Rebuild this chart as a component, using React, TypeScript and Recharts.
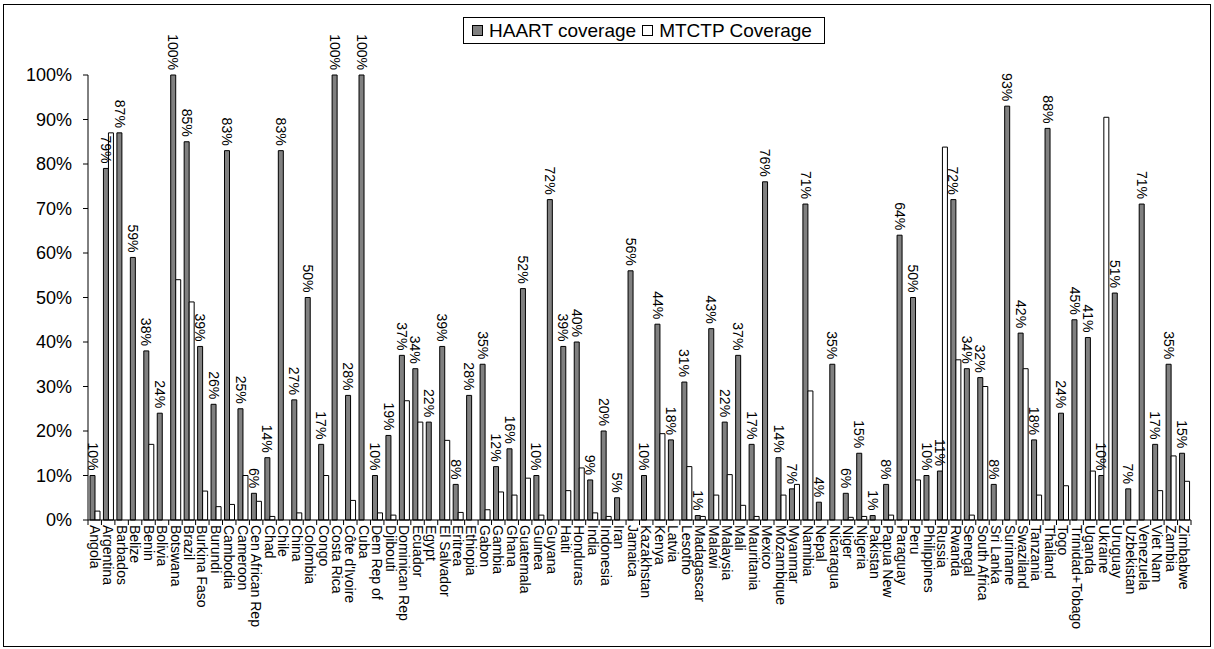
import React from "react";
import { BarChart, Bar, XAxis, YAxis, Legend, LabelList } from "recharts";

const countries = [
  "Angola", "Argentina", "Barbados", "Belize", "Benin", "Bolivia", "Botswana", "Brazil",
  "Burkina Faso", "Burundi", "Cambodia", "Cameroon", "Cen African Rep", "Chad", "Chile",
  "China", "Colombia", "Congo", "Costa Rica", "Côte d'Ivoire", "Cuba", "Dem Rep of",
  "Djibouti", "Dominican Rep", "Ecuador", "Egypt", "El Salvador", "Eritrea", "Ethiopia",
  "Gabon", "Gambia", "Ghana", "Guatemala", "Guinea", "Guyana", "Haiti", "Honduras", "India",
  "Indonesia", "Iran", "Jamaica", "Kazakhstan", "Kenya", "Latvia", "Lesotho", "Madagascar",
  "Malawi", "Malaysia", "Mali", "Mauritania", "Mexico", "Mozambique", "Myanmar", "Namibia",
  "Nepal", "Nicaragua", "Niger", "Nigeria", "Pakistan", "Papua New", "Paraguay", "Peru",
  "Philippines", "Russia", "Rwanda", "Senegal", "South Africa", "Sri Lanka", "Suriname",
  "Swaziland", "Tanzania", "Thailand", "Togo", "Trinidad+Tobago", "Uganda", "Ukraine",
  "Uruguay", "Uzbekistan", "Venezuela", "Viet Nam", "Zambia", "Zimbabwe",
];

const haart = [
  10, 79, 87, 59, 38, 24, 100, 85, 39, 26, 83, 25, 6, 14, 83, 27, 50, 17, 100, 28, 100, 10,
  19, 37, 34, 22, 39, 8, 28, 35, 12, 16, 52, 10, 72, 39, 40, 9, 20, 5, 56, 10, 44, 18, 31, 1,
  43, 22, 37, 17, 76, 14, 7, 71, 4, 35, 6, 15, 1, 8, 64, 50, 10, 11, 72, 34, 32, 8, 93, 42,
  18, 88, 24, 45, 41, 10, 51, 7, 71, 17, 35, 15,
];

const mtctp = [
  2, 87, 0, 0, 17, 0, 54, 49, 6.5, 3, 3.5, 10, 4.2, 0.8, 0, 1.6, 0, 10, 0, 4.4, 0, 1.6,
  1.1, 26.8, 22, 0, 17.9, 1.7, 0, 2.3, 6.3, 5.6, 9.4, 1.1, 0, 6.6, 11.7, 1.6, 0.8, 0, 0, 0,
  19.4, 0, 12, 0.8, 5.6, 10.2, 3.3, 0.8, 0, 5.6, 8, 29, 0, 0, 0.6, 0.8, 0, 1.1, 0, 9, 0,
  83.8, 36, 1.1, 30, 0, 0, 34, 5.6, 0, 7.7, 0, 11, 90.5, 0, 0, 0, 6.6, 14.4, 8.7,
];

const yTicks = [0, 10, 20, 30, 40, 50, 60, 70, 80, 90, 100];

const data = countries.map((c, i) => ({ country: c, haart: haart[i], mtctp: mtctp[i] }));

const FONT = "'Liberation Sans', Arial, Helvetica, sans-serif";
const W = 1214;
const H = 649;
const LEFT = 88;
const RIGHT = 23;
const BAND = (W - LEFT - RIGHT) / countries.length;

const CountryTick = (props: any) => {
  const { x, y, payload, index } = props;
  const half = BAND / 2;
  const ty = y + 5;
  return (
    <g>
      {index === 0 && <line x1={x - half} y1={y} x2={x - half} y2={y + 5} stroke="#000" />}
      <line x1={x + half} y1={y} x2={x + half} y2={y + 5} stroke="#000" />
      <text
        x={x}
        y={ty}
        transform={`rotate(90, ${x}, ${ty})`}
        textAnchor="start"
        dy="0.35em"
        fontSize={14}
        fontFamily={FONT}
        fill="#000"
      >
        {payload.value}
      </text>
    </g>
  );
};

const TopLabel = (props: any) => {
  const { x, y, width, value } = props;
  const cx = x + width / 2;
  const ty = y - 5;
  return (
    <text
      x={cx}
      y={ty}
      transform={`rotate(90, ${cx}, ${ty})`}
      textAnchor="end"
      dy="0.35em"
      fontSize={14}
      fontFamily={FONT}
      fill="#000"
    >
      {value}%
    </text>
  );
};

const LegendBox = (props: any) => {
  const { payload = [] } = props;
  return (
    <div
      style={{
        display: "flex",
        alignItems: "center",
        height: 25,
        border: "1px solid #000",
        background: "#fff",
        padding: "0 12px 0 8px",
        fontFamily: FONT,
        fontSize: 19,
        color: "#000",
        whiteSpace: "nowrap",
      }}
    >
      {payload.map((p: any, i: number) => (
        <span key={p.value} style={{ display: "flex", alignItems: "center", marginLeft: i ? 6 : 0 }}>
          <span
            style={{
              display: "inline-block",
              width: 9,
              height: 9,
              border: "1px solid #000",
              background: p.color,
              marginRight: 6,
            }}
          />
          {p.value}
        </span>
      ))}
    </div>
  );
};

export default function App() {
  return (
    <div style={{ position: "absolute", left: 0, top: 0, width: W, height: H, background: "#fff" }}>
      <div
        style={{
          position: "absolute",
          left: 3,
          top: 4,
          width: 1206,
          height: 641,
          border: "1px solid #000",
        }}
      />
      <BarChart
        width={W}
        height={H}
        data={data}
        margin={{ top: 75, right: RIGHT, left: 0, bottom: 0 }}
        barGap={0}
        style={{ fontFamily: FONT }}
      >
        <XAxis
          dataKey="country"
          interval={0}
          height={129}
          tickSize={0}
          tickMargin={0}
          tickLine={false}
          axisLine={{ stroke: "#000" }}
          tick={<CountryTick />}
        />
        <YAxis
          width={LEFT}
          domain={[0, 100]}
          ticks={yTicks}
          tickFormatter={(v: number) => `${v}%`}
          tickSize={5}
          tickMargin={11}
          axisLine={{ stroke: "#000" }}
          tickLine={{ stroke: "#000" }}
          tick={{ fontSize: 18, fill: "#000", fontFamily: FONT }}
        />
        <Legend
          verticalAlign="middle"
          align="center"
          content={<LegendBox />}
          wrapperStyle={{ top: 17, left: 463, width: "auto", height: "auto" }}
        />
        <Bar dataKey="haart" name="HAART coverage" fill="#808080" stroke="#000" strokeWidth={1} barSize={5} isAnimationActive={false}>
          <LabelList dataKey="haart" content={<TopLabel />} />
        </Bar>
        <Bar dataKey="mtctp" name="MTCTP Coverage" fill="#ffffff" stroke="#000" strokeWidth={1} barSize={5} isAnimationActive={false} />
      </BarChart>
    </div>
  );
}
